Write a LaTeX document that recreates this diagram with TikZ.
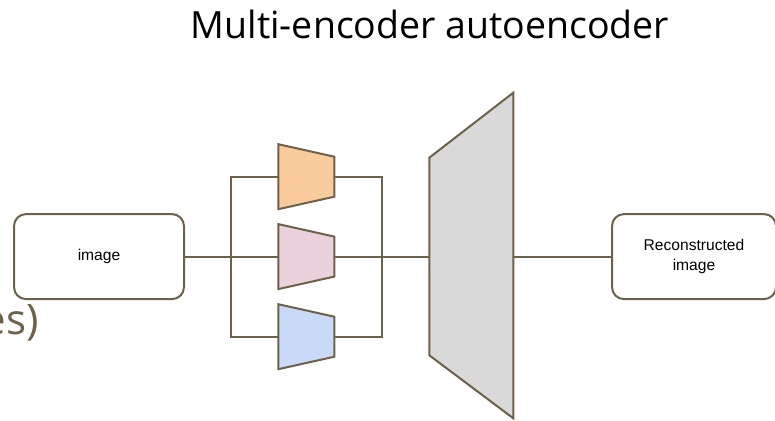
\documentclass[tikz,border=0pt]{standalone}
\usepackage{fontspec}
\usetikzlibrary{calc}
\setmainfont{Liberation Sans}
\newfontfamily\titlefont{Open Sans}
\definecolor{edge}{RGB}{110,97,74}
\definecolor{encorange}{HTML}{F9CB9C}
\definecolor{encpink}{HTML}{EAD1DC}
\definecolor{encblue}{HTML}{C9DAF8}
\definecolor{decgray}{HTML}{D9D9D9}
\tikzset{
	wire/.style={draw=edge, line width=2pt},
	imgbox/.style={wire, fill=white, rounded corners=12pt, minimum width=170pt, minimum height=85pt,
		inner sep=0pt, align=center, font=\fontsize{15.6}{19.5}\selectfont},
}
\begin{document}
\begin{tikzpicture}[x=1pt, y=-1pt]
		\useasboundingbox (0,0) rectangle (775,420);
		\clip (0,0) rectangle (775,420);

		% title and cut-off text at the left border
		\node[font=\titlefont\fontsize{37.5}{44}\selectfont, anchor=base, inner sep=0pt] (title) at (430,38.5) {Multi-encoder autoencoder};
		\node[font=\titlefont\fontsize{42}{48}\selectfont, text=edge, anchor=base east, inner sep=0pt] (cut) at (39,334) {es)};

		% input and output
		\node[imgbox] (img) at (99,256.6) {image};
		\node[imgbox, minimum width=164pt] (recon) at (694,256.6) {Reconstructed\\image};

		% points on the wires
		\coordinate (split) at (231,256.6);
		\coordinate (join) at (382.3,256.6);
		\coordinate (dec-in) at (429.3,256.6);
		\coordinate (dec-out) at (513.3,256.6);
		\foreach \name/\y in {encA/176.7, encB/256.6, encC/336.7} {
			\coordinate (\name-in) at (278.3,\y);
			\coordinate (\name-out) at (334.3,\y);
		}

		% Wires
		\draw[wire] (img) -- (encB-in);
		\draw[wire] (encA-in) -| (split) |- (encC-in);
		\draw[wire] (encA-out) -| (join) |- (encC-out);
		\draw[wire] (encB-out) -- (dec-in);
		\draw[wire] (dec-out) -- (recon);

		% Draw the encoders over the wires
		\foreach \name/\col in {encA/encorange, encB/encpink, encC/encblue} {
			\draw[wire, fill=\col] ($(\name-in)+(0,-32.5)$) -- ($(\name-out)+(0,-20)$)
				-- ($(\name-out)+(0,20)$) -- ($(\name-in)+(0,32.5)$) -- cycle;
		}

		% Decoder
		\draw[wire, fill=decgray] ($(dec-in)+(0,-98.9)$) -- ($(dec-out)+(0,-163.9)$)
			-- ($(dec-out)+(0,161.7)$) -- ($(dec-in)+(0,98.7)$) -- cycle;
	\end{tikzpicture}
\end{document}
